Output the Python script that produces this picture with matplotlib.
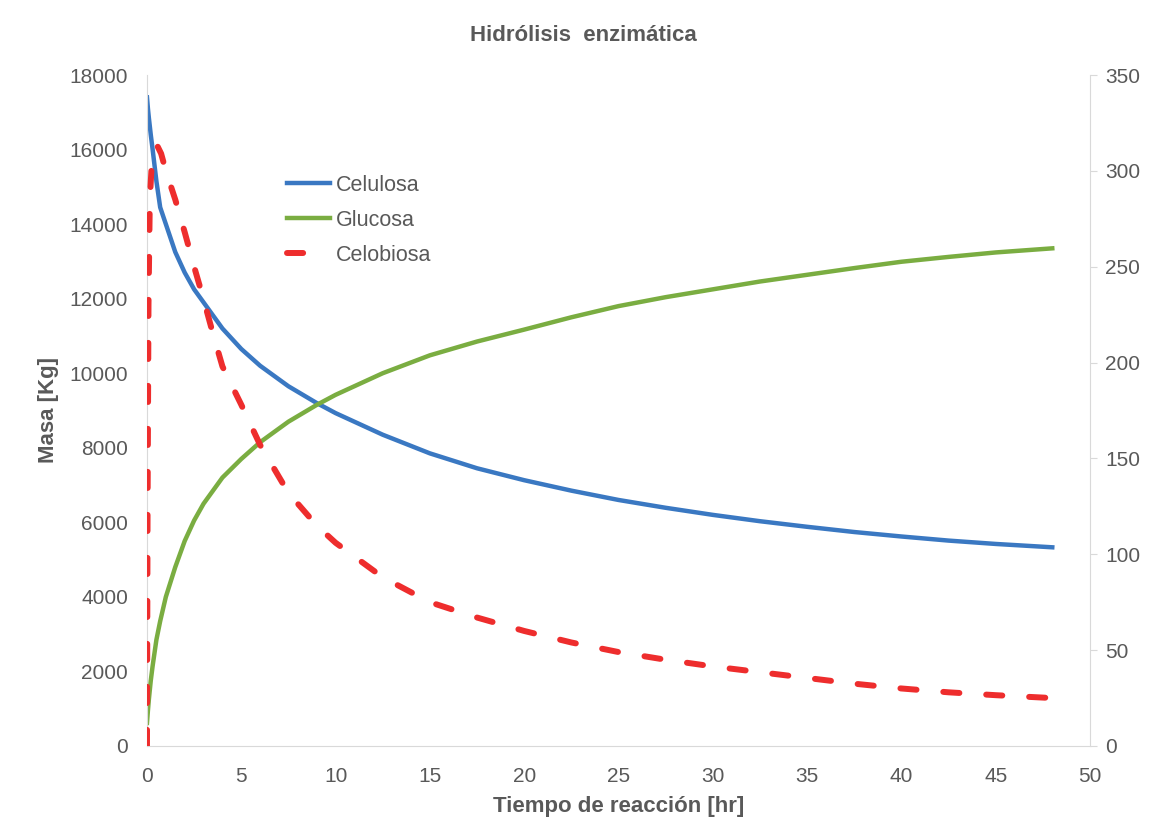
import numpy as np
import matplotlib
matplotlib.use('Agg')
import matplotlib.pyplot as plt

plt.rcParams['font.family'] = ['Liberation Sans', 'DejaVu Sans']

# tiempo (hr) y masas
t = [0, 0.05, 0.1, 0.2, 0.3, 0.5, 0.7, 1, 1.5, 2, 2.5, 3, 4, 5, 6, 7.5, 9, 10, 12.5, 15,
     17.5, 20, 22.5, 25, 27.5, 30, 32.5, 35, 37.5, 40, 42.5, 45, 48]
celulosa = [17400, 17100, 16850, 16400, 16000, 15150, 14450, 14000, 13250, 12700, 12250,
            11900, 11200, 10650, 10200, 9650, 9200, 8930, 8350, 7850, 7450, 7130, 6850,
            6600, 6390, 6200, 6030, 5880, 5740, 5620, 5510, 5420, 5330]
glucosa = [620, 950, 1250, 1750, 2150, 2850, 3350, 4000, 4800, 5500, 6050, 6500, 7200,
           7700, 8150, 8700, 9150, 9420, 10000, 10480, 10850, 11170, 11500, 11800, 12040,
           12250, 12460, 12640, 12820, 12990, 13120, 13240, 13350]

# celobiosa (eje derecho)
t_cb = [0, 0.03, 0.08, 0.15, 0.25, 0.4, 0.55, 0.75, 1, 1.5, 2, 2.5, 3, 3.5, 4, 5, 6, 7.5,
        9, 10, 12.5, 15, 17.5, 20, 22.5, 25, 27.5, 30, 32.5, 35, 37.5, 40, 42.5, 45, 48]
celobiosa = [0, 120, 230, 285, 303, 310, 313, 309, 300, 285, 268, 250, 233, 215, 198,
             178, 157, 132, 115, 106, 88, 75, 67, 60, 54, 49, 45, 41.5, 38.5, 35.5, 32.5,
             30, 28, 26.5, 25]

gray = '#595959'
fig = plt.figure(figsize=(11.51, 8.38), dpi=100)
ax = fig.add_axes([0.1277, 0.1098, 0.8193, 0.8007])
ax2 = ax.twinx()

l1, = ax.plot(t, celulosa, color='#3A78C2', lw=3.2, label='Celulosa')
l2, = ax.plot(t, glucosa, color='#7AAD41', lw=3.2, label='Glucosa')
l3, = ax2.plot(t_cb, celobiosa, color='#EE2D2D', lw=4.3, ls=(0, (2.7, 4.5)),
               dash_capstyle='round', label='Celobiosa')

ax.set_xlim(0, 50)
ax.set_ylim(0, 18000)
ax2.set_ylim(0, 350)
ax.set_xticks(np.arange(0, 51, 5))
ax.set_yticks(np.arange(0, 18001, 2000))
ax2.set_yticks(np.arange(0, 351, 50))

for a in (ax, ax2):
    for s in a.spines.values():
        s.set_visible(False)
    a.tick_params(labelsize=15, colors=gray, length=0)
ax.tick_params(axis='x', pad=15)
ax.tick_params(axis='y', pad=13.5)
ax.spines['bottom'].set_visible(True)
ax.spines['bottom'].set_color('#D9D9D9')
ax.spines['left'].set_visible(True)
ax.spines['left'].set_color('#D9D9D9')
ax2.spines['right'].set_visible(True)
ax2.spines['right'].set_color('#D9D9D9')
ax2.tick_params(axis='y', length=5, direction='out', color='#D9D9D9', pad=6)

fig.text(0.507, 0.958, 'Hidrólisis  enzimática', fontsize=16, fontweight='bold',
         color=gray, ha='center', va='center')
ax.set_xlabel('Tiempo de reacción [hr]', fontsize=16, fontweight='bold', color=gray, labelpad=7.5)
ax.set_ylabel('Masa [Kg]', fontsize=16, fontweight='bold', color=gray, labelpad=7.5)

leg = ax.legend(handles=[l1, l2, l3], loc='upper left', bbox_to_anchor=(0.128, 0.88),
                frameon=False, fontsize=15.5, handlelength=2.0, handletextpad=0.25,
                labelspacing=0.65)
for txt in leg.get_texts():
    txt.set_color(gray)

fig.savefig('out.png', dpi=100)
